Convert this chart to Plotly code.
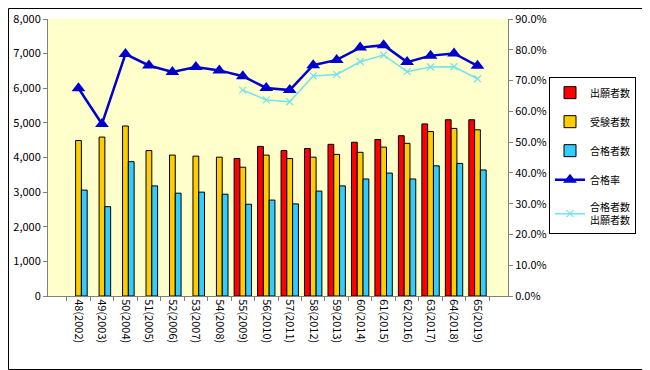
import plotly.graph_objects as go

categories = ["48(2002)", "49(2003)", "50(2004)", "51(2005)", "52(2006)", "53(2007)",
              "54(2008)", "55(2009)", "56(2010)", "57(2011)", "58(2012)", "59(2013)",
              "60(2014)", "61(2015)", "62(2016)", "63(2017)", "64(2018)", "65(2019)"]
applicants = [None, None, None, None, None, None, None,
              3970, 4320, 4200, 4260, 4380, 4440, 4520, 4630, 4970, 5090, 5090]
examinees = [4490, 4590, 4910, 4200, 4070, 4040, 4010,
             3720, 4070, 3970, 4010, 4090, 4150, 4300, 4410, 4750, 4840, 4800]
passers = [3060, 2580, 3880, 3180, 2970, 3000, 2940,
           2650, 2770, 2660, 3030, 3180, 3380, 3550, 3380, 3760, 3830, 3640]
pass_rate = [67.5, 55.9, 78.6, 74.9, 72.8, 74.4, 73.3,
             71.4, 67.6, 66.9, 75.0, 76.7, 80.7, 81.5, 76.0, 78.1, 78.8, 74.8]
pass_per_applicant = [None, None, None, None, None, None, None,
                      66.9, 63.7, 63.1, 71.5, 72.0, 76.1, 78.3, 72.9, 74.4, 74.5, 70.6]

FONT = "Noto Sans CJK JP, sans-serif"

# The page body has an 8px default margin, so the figure is sized to fit the window.
W, H = 642, 362
ML, MR, MT, MB = 40, 142, 11, 74
PW, PH = W - ML - MR, H - MT - MB

fig = go.Figure()
fig.add_trace(go.Bar(x=categories, y=applicants, name="出願者数", legendgroup="a",
                     marker=dict(color="#FF0000", line=dict(color="#000000", width=1))))
fig.add_trace(go.Bar(x=categories, y=examinees, name="受験者数", legendgroup="b",
                     marker=dict(color="#FFCC00", line=dict(color="#000000", width=1))))
fig.add_trace(go.Bar(x=categories, y=passers, name="合格者数", legendgroup="c",
                     marker=dict(color="#33CCFF", line=dict(color="#000000", width=1))))
fig.add_trace(go.Scatter(x=categories, y=pass_rate, name="合格率", yaxis="y2", legendgroup="d",
                         mode="lines+markers",
                         line=dict(color="#0000CC", width=2.5),
                         marker=dict(symbol="triangle-up", size=12, color="#0000CC")))
fig.add_trace(go.Scatter(x=categories, y=pass_per_applicant, name="合格者数<br>出願者数",
                         yaxis="y2", legendgroup="e", mode="lines+markers",
                         line=dict(color="#70E4EC", width=1.5),
                         marker=dict(symbol="x-thin", size=7, color="#70E4EC",
                                     line=dict(color="#70E4EC", width=1.2))))

fig.update_layout(
    width=W, height=H,
    margin=dict(l=ML, r=MR, t=MT, b=MB, autoexpand=False),
    paper_bgcolor="#FFFFFF",
    plot_bgcolor="#FFFFCC",
    font=dict(family=FONT, size=11, color="#000000"),
    barmode="group", bargap=0.26, bargroupgap=0,
    showlegend=True,
    legend=dict(x=(541 - ML) / PW, y=0.79, xanchor="left", yanchor="top",
                bgcolor="#FFFFFF", bordercolor="#000000", borderwidth=1,
                font=dict(family=FONT, size=10), tracegroupgap=10,
                traceorder="grouped"),
    xaxis=dict(type="category", tickangle=90, showline=True, linecolor="#808080",
               linewidth=1, ticks="outside", tickson="boundaries", ticklen=4,
               tickcolor="#808080", showgrid=False, tickfont=dict(size=11),
               automargin=False),
    yaxis=dict(range=[0, 8000], dtick=1000, tickformat=",d", showline=True,
               linecolor="#808080", linewidth=1, ticks="outside", ticklen=4,
               tickcolor="#808080", showgrid=False, zeroline=False,
               tickfont=dict(size=11), automargin=False),
    yaxis2=dict(range=[0, 90], dtick=10, tickformat=".1f", ticksuffix="%",
                overlaying="y", side="right", showline=True, linecolor="#808080",
                linewidth=1, ticks="outside", ticklen=4, tickcolor="#808080",
                showgrid=False, zeroline=False, tickfont=dict(size=11),
                automargin=False),
    shapes=[dict(type="rect", xref="paper", yref="paper",
                 x0=(0.5 - ML) / PW, x1=(W - 0.5 - ML) / PW,
                 y0=-(MB - 0.5) / PH, y1=1 + (MT - 0.5) / PH,
                 line=dict(color="#000000", width=1), fillcolor="rgba(0,0,0,0)",
                 layer="above")],
)

fig.write_html("out.html")
